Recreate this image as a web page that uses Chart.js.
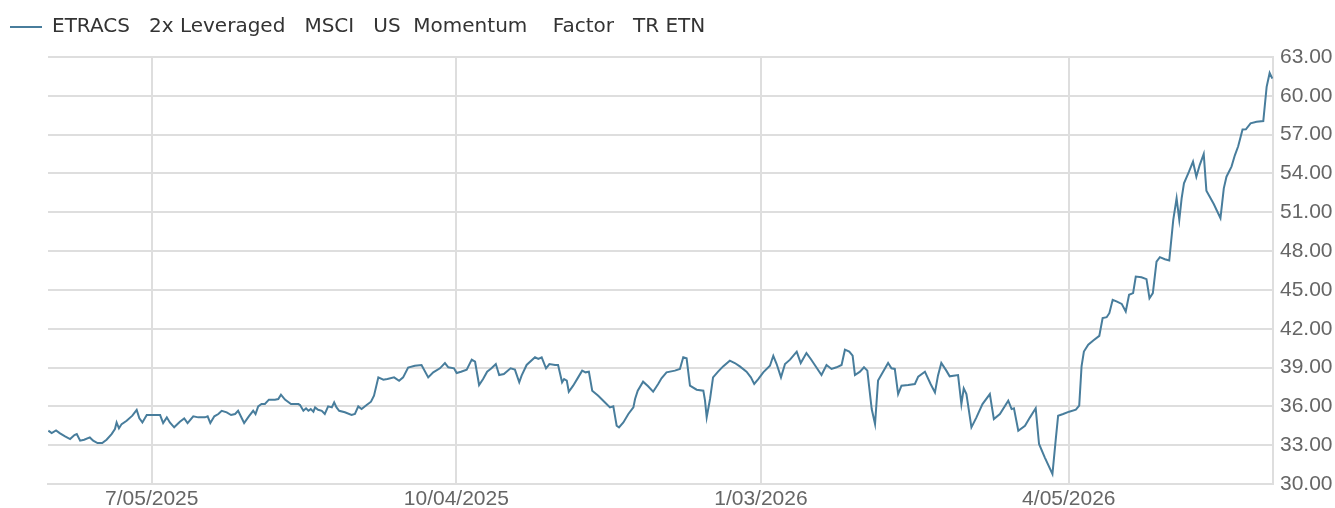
<!DOCTYPE html>
<html>
<head>
<meta charset="utf-8">
<script src="https://cdn.jsdelivr.net/npm/chart.js@4.4.1/dist/chart.umd.min.js"></script>
<style>
    html, body { margin: 0; padding: 0; background: #fff; }
    #chart-wrap { width: 1335px; height: 508px; }
</style>
</head>
<body>
<div id="chart-wrap"><canvas id="chart-price" width="1335" height="508"></canvas></div>
<script>
const seriesLabel = 'ETRACS   2x Leveraged   MSCI   US  Momentum    Factor   TR ETN';

// x = days since 2025-06-04, y = closing price
const dayOffsets = [
    0.1, 1.1, 2.4, 3.6, 5.1, 6.6, 7.9, 8.6, 9.6, 10.8, 12.5, 13.5, 14.8, 16.2, 17.5, 19.0, 20.0, 20.5, 21.2, 22.0,
    23.5, 25.2, 26.5, 27.3, 28.2, 29.5, 31.0, 33.5, 34.4, 35.5, 36.4, 37.7, 39.4, 40.7, 41.7, 43.4, 44.9, 46.9, 47.7, 48.5,
    49.7, 50.9, 51.9, 53.4, 54.7, 55.9, 56.8, 58.6, 60.0, 61.3, 62.0, 62.8, 63.8, 64.8, 66.0, 67.8, 68.8, 69.6, 70.8, 72.6, 74.8,
    75.3, 76.3, 77.1, 77.8, 78.5, 79.3, 79.8, 80.7, 81.8, 82.7, 83.7, 84.8, 85.5, 86.2, 87.0, 88.7, 90.7, 91.7, 92.7, 93.7,
    95.2, 96.5, 97.4, 98.7, 100.2, 101.4, 103.4, 104.9, 106.1, 107.6, 109.6, 111.6, 113.6, 115.1, 117.1, 118.6, 119.6, 121.3, 122.1, 123.4,
    125.1, 126.6, 127.6, 128.8, 130.0, 131.2, 132.5, 133.8, 134.8, 136.2, 138.2, 139.5, 140.8, 141.5, 143.0, 145.5, 146.5, 147.5, 148.8, 149.8, 151.5,
    152.4, 153.6, 154.2, 155.0, 155.6, 156.9, 158.4, 159.6, 160.6, 161.6, 162.6, 164.4, 166.2, 167.9, 168.9, 169.9, 170.6, 171.9, 173.4, 174.9,
    175.4, 176.2, 177.8, 179.3, 180.8, 182.3, 183.3, 184.8, 187.3, 188.8, 189.8, 190.8, 191.8, 193.8, 195.8, 196.3, 196.8, 197.8, 198.7, 200.2,
    201.7, 203.7, 205.2, 206.7, 208.7, 210.0, 211.0, 212.2, 213.7, 215.7, 216.7, 217.7, 219.0, 220.2, 221.7, 223.7, 224.9, 226.6, 227.9, 229.1,
    231.1, 232.6, 234.1, 235.6, 237.1, 238.1, 239.4, 240.4, 241.1, 242.6, 243.8, 244.8, 246.1, 247.1, 248.0, 249.5, 251.0, 252.0, 253.0, 254.0,
    255.0, 257.0, 259.0, 260.0, 262.0, 263.7, 265.0, 265.9, 266.9, 268.4, 269.4, 271.9, 272.9, 273.6, 274.4, 275.9, 277.4, 279.2, 281.4, 282.6,
    284.4, 286.9, 287.9, 288.6, 289.9, 291.9, 293.4, 295.1, 296.1, 297.8, 300.1, 301.1, 301.8, 303.3, 305.1,
    307.1, 308.1, 308.8, 309.5, 310.8, 312.3, 314.1, 315.1, 316.3, 317.1, 318.1, 319.4, 320.8, 322.0, 323.0, 324.2, 325.0, 326.7, 328.2, 329.1,
    330.1, 331.2, 332.2, 333.7, 335.0, 336.2, 337.2, 338.0, 338.7, 339.4, 340.9, 342.1, 343.1, 344.1, 345.3, 346.1, 348.3, 350.3, 351.3, 352.1,
    353.6, 354.6, 355.6, 356.9, 357.9, 359.3, 361.1, 363.1, 364.1, 365.0, 365.8
];

const closePrices = [
    34.12, 33.94, 34.14, 33.91, 33.68, 33.47, 33.78, 33.86, 33.35, 33.42, 33.60, 33.35, 33.16, 33.16, 33.42, 33.86, 34.25, 34.76, 34.30, 34.63,
    34.89, 35.28, 35.72, 35.07, 34.76, 35.33, 35.33, 35.33, 34.71, 35.15, 34.76, 34.38, 34.81, 35.07, 34.71, 35.23, 35.15, 35.15, 35.23, 34.71,
    35.23, 35.41, 35.66, 35.54, 35.33, 35.41, 35.66, 34.71, 35.23, 35.66, 35.41, 36.00, 36.18, 36.18, 36.52, 36.52, 36.57, 36.90, 36.52, 36.18, 36.18,
    36.10, 35.66, 35.85, 35.66, 35.79, 35.59, 35.92, 35.74, 35.66, 35.41, 36.00, 35.92, 36.31, 35.92, 35.66, 35.54, 35.33, 35.41, 36.00, 35.79,
    36.10, 36.36, 36.82, 38.24, 38.06, 38.11, 38.24, 37.98, 38.24, 39.00, 39.14, 39.20, 38.24, 38.63, 38.94, 39.35, 39.02, 38.94, 38.58, 38.68,
    38.84, 39.61, 39.45, 37.65, 38.11, 38.68, 38.94, 39.27, 38.42, 38.50, 38.94, 38.84, 37.86, 38.37, 39.20, 39.79, 39.66, 39.79, 38.94, 39.27, 39.20,
    39.20, 37.86, 38.11, 37.99, 37.13, 37.60, 38.24, 38.76, 38.63, 38.68, 37.21, 36.82, 36.36, 35.92, 36.00, 34.50, 34.38, 34.76, 35.41, 35.92,
    36.57, 37.21, 37.91, 37.55, 37.13, 37.73, 38.17, 38.63, 38.76, 38.89, 39.79, 39.71, 37.60, 37.29, 37.21, 36.44, 35.15, 36.57, 38.24, 38.68,
    39.09, 39.53, 39.35, 39.09, 38.68, 38.24, 37.73, 38.11, 38.63, 39.14, 39.91, 39.27, 38.24, 39.27, 39.61, 40.23, 39.35, 40.12, 39.66, 39.20,
    38.42, 39.20, 38.89, 39.02, 39.20, 40.38, 40.23, 39.92, 38.42, 38.68, 39.02, 38.76, 35.79, 34.63, 37.99, 38.68, 39.35, 38.94, 38.89, 36.95,
    37.60, 37.65, 37.73, 38.30, 38.68, 37.73, 37.08, 38.37, 39.35, 38.76, 38.32, 38.42, 36.18, 37.39, 36.95, 34.38, 35.15, 36.18, 36.95, 35.02,
    35.41, 36.44, 35.79, 35.85, 34.12, 34.50, 35.15, 35.85, 33.09, 32.06, 30.77, 33.47, 35.28, 35.41, 35.59,
    35.74, 36.05, 39.09, 40.24, 40.76, 41.09, 41.45, 42.82, 42.89, 43.20, 44.23, 44.10, 43.92, 43.33, 44.62, 44.75, 46.03, 45.98, 45.83, 44.36,
    44.75, 47.19, 47.53, 47.37, 47.27, 50.41, 52.08, 50.41, 52.08, 53.24, 54.14, 54.91, 53.75, 54.65, 55.50, 52.67, 51.64, 50.54, 52.85, 53.75,
    54.53, 55.40, 56.10, 57.40, 57.41, 57.87, 58.00, 58.05, 60.69, 61.77, 61.33
];

const tickDays = [31, 122, 213, 305];
const tickLabels = ['7/05/2025', '10/04/2025', '1/03/2026', '4/05/2026'];

const dayMin = 0;
const dayMax = 366;
const priceMin = 30;
const priceMax = 63;
const priceStep = 3;

const LINE_COLOR = '#487d9c';
const GRID_COLOR = '#dedede';
const TICK_COLOR = '#666666';
const tickFont = { family: "'Liberation Sans', Arial, sans-serif", size: 21 };

// legend box gets a fixed height so the plot starts at the same place every time
const legendSpacer = {
    id: 'legendSpacer',
    afterInit(chart) {
        const legend = chart.legend;
        const fit = legend.fit;
        legend.fit = function () {
            fit.call(this);
            this.height = 50;
        };
    }
};

const points = dayOffsets.map((d, i) => ({ x: d, y: closePrices[i] }));

new Chart(document.getElementById('chart-price'), {
    type: 'line',
    data: {
        datasets: [{
            label: seriesLabel,
            data: points,
            borderColor: LINE_COLOR,
            backgroundColor: LINE_COLOR,
            borderWidth: 2,
            pointRadius: 0,
            tension: 0
        }]
    },
    options: {
        responsive: false,
        animation: false,
        devicePixelRatio: 1,
        layout: { padding: { top: 7, left: 0, right: 0, bottom: 0 } },
        plugins: {
            legend: {
                position: 'top',
                align: 'start',
                labels: {
                    boxWidth: 32,
                    boxHeight: 2,
                    padding: 10,
                    color: '#333333',
                    font: { family: "'DejaVu Sans', sans-serif", size: 20 },
                    generateLabels: chart => chart.data.datasets.map((ds, i) => ({
                        text: ds.label,
                        fillStyle: ds.borderColor,
                        strokeStyle: ds.borderColor,
                        lineWidth: 0,
                        fontColor: '#333333',
                        datasetIndex: i
                    }))
                }
            },
            tooltip: { enabled: false }
        },
        scales: {
            x: {
                type: 'linear',
                min: dayMin,
                max: dayMax,
                afterBuildTicks: scale => {
                    scale.ticks = tickDays.map(v => ({ value: v }));
                },
                afterFit: scale => { scale.height = 24; },
                ticks: {
                    autoSkip: false,
                    maxRotation: 0,
                    padding: 3,
                    color: TICK_COLOR,
                    font: tickFont,
                    callback: (value, index) => tickLabels[index]
                },
                grid: { color: GRID_COLOR, lineWidth: 2, drawTicks: false },
                border: { color: GRID_COLOR, width: 2 }
            },
            y: {
                position: 'right',
                min: priceMin,
                max: priceMax,
                afterFit: scale => { scale.width = 62; },
                ticks: {
                    stepSize: priceStep,
                    padding: 7,
                    color: TICK_COLOR,
                    font: tickFont,
                    callback: value => value.toFixed(2)
                },
                grid: { color: GRID_COLOR, lineWidth: 2, drawTicks: false },
                border: { color: GRID_COLOR, width: 2 }
            },
            // empty strip on the left side of the plot
            leftEdge: {
                type: 'linear',
                position: 'left',
                afterFit: scale => { scale.width = 48; },
                ticks: { display: false },
                grid: { display: false },
                border: { display: false }
            }
        }
    },
    plugins: [legendSpacer]
});
</script>
</body>
</html>
